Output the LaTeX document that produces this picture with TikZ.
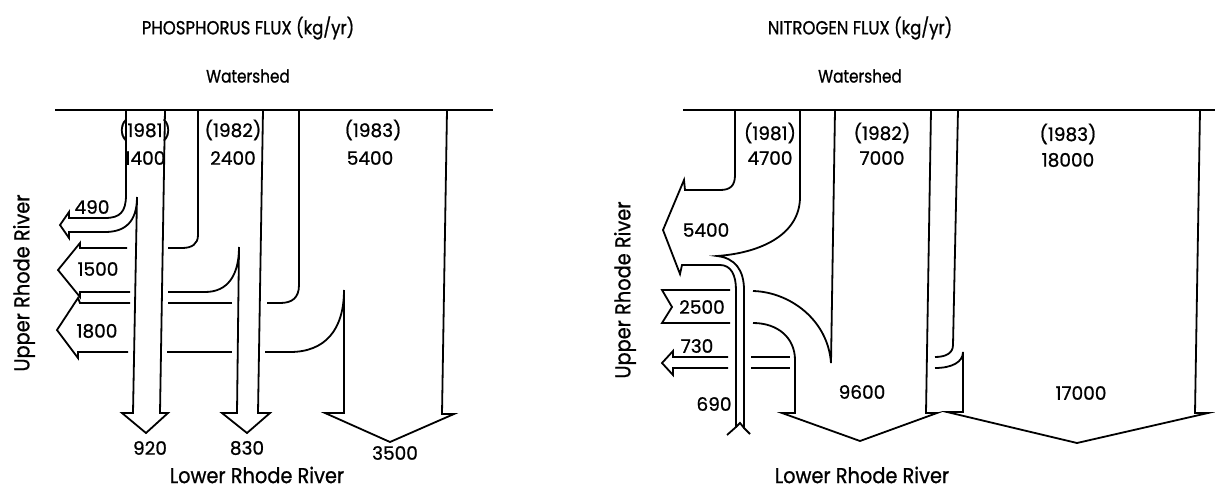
\documentclass[tikz,border=0pt]{standalone}
\usepackage{fontspec}
\setmainfont{Poppins}[RawFeature={embolden=0.9}]
\usetikzlibrary{positioning}
\tikzset{
  flowedge/.style={line width=1.8pt,black,line join=miter},
  numlbl/.style={font=\fontsize{18.5}{20}\selectfont,inner sep=0pt},
  yrlbl/.style={numlbl},
  ttllbl/.style={font=\fontsize{19}{21}\selectfont\addfontfeatures{FakeStretch=0.87},inner sep=0pt},
  shedlbl/.style={font=\fontsize{18}{20}\selectfont\addfontfeatures{FakeStretch=0.85},inner sep=0pt},
  rivlbl/.style={font=\fontsize{21.5}{23}\selectfont\addfontfeatures{FakeStretch=0.9},inner sep=0pt},
}

\begin{document}
\begin{tikzpicture}[x=1pt,y=-1pt]
  \useasboundingbox (0,0) rectangle (1215,493);
  % phosphorus panel
  \node[ttllbl] (pTitle) at (248,28) {PHOSPHORUS FLUX (kg/yr)};
  \node[shedlbl] (pShed) at (248,76) {Watershed};
  \node[rivlbl,rotate=90] (pUpper) at (24,283) {Upper Rhode River};
  \node[rivlbl] (pLower) at (257,475) {Lower Rhode River};
  \draw[flowedge] (55,110) -- (493,110);
  \draw[flowedge] (126,110) -- (126,195) .. controls (126,212) and (120,218) .. (105,218) -- (69,218) -- (69,212) -- (60,225) -- (69,238) -- (69,232) -- (105,232) .. controls (125,232) and (137,222) .. (137,197) -- (133,413) -- (122,413) -- (146,433) -- (168,413) -- (160,413) -- (165,110);
  \draw[flowedge] (198,110) -- (198,235) .. controls (198,244) and (192,248) .. (182,248) -- (168,248);
  \draw[flowedge] (127,248) -- (80,248) -- (80,243) -- (58,270) -- (80,297) -- (80,292) -- (130,292);
  \draw[flowedge] (168,292) -- (205,292) .. controls (228,292) and (239,275) .. (239,247) -- (237,413) -- (222,413) -- (247,433) -- (270,413) -- (258,413) -- (263,110);
  \draw[flowedge] (299,110) -- (299,285) .. controls (299,298) and (292,303) .. (280,303) -- (267,303);
  \draw[flowedge] (232,303) -- (168,303);
  \draw[flowedge] (130,303) -- (80,303) -- (78,298) -- (57,330) -- (78,358) -- (78,352) -- (128,352);
  \draw[flowedge] (167,352) -- (232,352);
  \draw[flowedge] (265,352) -- (290,352) .. controls (325,352) and (344,330) .. (344,290) -- (344,413) -- (325,413) -- (390,442) -- (454,414) -- (442,414) -- (447,110);
  \node[yrlbl] (pY81) at (145,130) {(1981)};
  \node[numlbl] (pIn81) at (145,158) {1400};
  \node[yrlbl] (pY82) at (233,130) {(1982)};
  \node[numlbl] (pIn82) at (233,158) {2400};
  \node[yrlbl] (pY83) at (373,130) {(1983)};
  \node[numlbl] (pIn83) at (370,158) {5400};
  \node[numlbl] (pUp81) at (92,207) {490};
  \node[numlbl] (pUp82) at (98,269) {1500};
  \node[numlbl] (pUp83) at (97,331) {1800};
  \node[numlbl] (pLo81) at (150,448) {920};
  \node[numlbl] (pLo82) at (247,448) {830};
  \node[numlbl] (pLo83) at (395,453) {3500};
  % nitrogen panel
  \node[ttllbl] (nTitle) at (860,28) {NITROGEN FLUX (kg/yr)};
  \node[shedlbl] (nShed) at (860,76) {Watershed};
  \node[rivlbl,rotate=90] (nUpper) at (625,290) {Upper Rhode River};
  \node[rivlbl] (nLower) at (862,475) {Lower Rhode River};
  \draw[flowedge] (683,110) -- (1215,110);
  \draw[flowedge] (735,110) -- (735,175) .. controls (735,186) and (730,190) .. (720,190) -- (685,190) -- (684,180) -- (663,230) -- (680,274) -- (682,265) -- (720,265) .. controls (731,265) and (736,275) .. (736,290) -- (736,427) -- (727,435);
  \draw[flowedge] (800,110) -- (800,197) .. controls (800,235) and (760,253) .. (717,256) .. controls (735,258) and (744,270) .. (744,290) -- (744,428) -- (750,434);
  \draw[flowedge] (736,427) -- (740,423) -- (744,428);
  \draw[flowedge] (835,110) -- (831,363) .. controls (828,320) and (790,292) .. (753,291);
  \draw[flowedge] (730,290) -- (662,290) -- (672,307) -- (662,323) -- (730,323);
  \draw[flowedge] (753,323) .. controls (778,323) and (795,338) .. (795,360) -- (795,413) -- (782,413) -- (860,441) -- (937,413) -- (926,413) -- (931,110);
  \draw[flowedge] (728,357) -- (673,357) -- (673,351) -- (662,363) -- (673,375) -- (673,368) -- (728,368);
  \draw[flowedge] (751,357) -- (790,357);
  \draw[flowedge] (751,368) -- (790,368);
  \draw[flowedge] (958,110) -- (953,345) .. controls (953,353) and (946,357) .. (935,357);
  \draw[flowedge] (935,368) .. controls (952,368) and (963,362) .. (963,352) -- (963,412) -- (947,412) -- (1077,443) -- (1208,413) -- (1195,413) -- (1200,110);
  \node[yrlbl] (nY81) at (770,133) {(1981)};
  \node[numlbl] (nIn81) at (770,158) {4700};
  \node[yrlbl] (nY82) at (882,133) {(1982)};
  \node[numlbl] (nIn82) at (882,158) {7000};
  \node[yrlbl] (nY83) at (1068,134) {(1983)};
  \node[numlbl] (nIn83) at (1068,160) {18000};
  \node[numlbl] (nUp81) at (706,230) {5400};
  \node[numlbl] (nUp82) at (702,307) {2500};
  \node[numlbl] (nUp83) at (697,346) {730};
  \node[numlbl] (nBack) at (714,404) {690};
  \node[numlbl] (nLo82) at (862,392) {9600};
  \node[numlbl] (nLo83) at (1081,393) {17000};
\end{tikzpicture}
\end{document}
